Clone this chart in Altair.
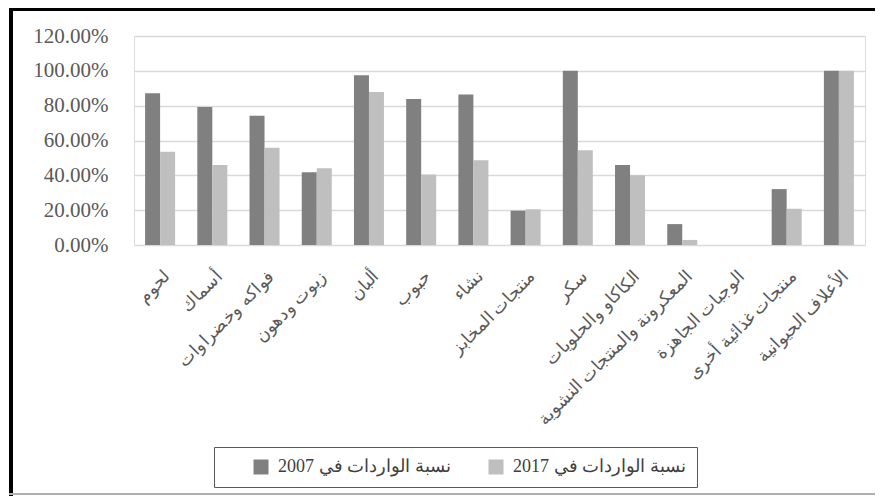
import altair as alt
import pandas as pd

categories = [
    "لحوم", "أسماك", "فواكه وخضراوات", "زيوت ودهون", "ألبان", "حبوب", "نشاء",
    "منتجات المخابز", "سكر", "الكاكاو والحلويات", "المعكرونة والمنتجات النشوية",
    "الوجبات الجاهزة", "منتجات غذائية أخرى", "الأعلاف الحيوانية",
]
series_names = ["نسبة الواردات في 2007", "نسبة الواردات في 2017"]
values_2007 = [0.872, 0.792, 0.742, 0.418, 0.975, 0.838, 0.864, 0.197, 1.0, 0.46, 0.12, 0.0, 0.321, 1.0]
values_2017 = [0.536, 0.46, 0.559, 0.441, 0.878, 0.405, 0.487, 0.205, 0.544, 0.401, 0.029, 0.0, 0.208, 1.0]
y_ticks = [0, 0.2, 0.4, 0.6, 0.8, 1.0, 1.2]
colors = ["#808080", "#bfbfbf"]

rows = []
for c, a, b in zip(categories, values_2007, values_2017):
    rows.append({"cat": c, "series": series_names[0], "v": a})
    rows.append({"cat": c, "series": series_names[1], "v": b})
df = pd.DataFrame(rows)

PLOT_W, PLOT_H = 731, 209

bars = alt.Chart(df).mark_bar(size=15).encode(
    x=alt.X("cat:N", sort=categories, title=None,
            scale=alt.Scale(paddingInner=0.425, paddingOuter=0.2125),
            axis=alt.Axis(labelAngle=-45, labelAlign="right", labelBaseline="top",
                          labelPadding=22, labelOffset=1, ticks=False, tickSize=0,
                          domain=False, labelFont="Liberation Serif", labelFontSize=17.5,
                          labelColor="#595959", labelLimit=400, grid=False)),
    xOffset=alt.XOffset("series:N", sort=series_names,
                        scale=alt.Scale(paddingInner=0, paddingOuter=0)),
    y=alt.Y("v:Q", title=None,
            scale=alt.Scale(domain=[0, 1.2], nice=False),
            axis=alt.Axis(values=y_ticks, format=".2%", labelFont="Liberation Serif",
                          labelFontSize=21, labelColor="#595959", labelPadding=26,
                          ticks=False, domain=False, gridColor="#d9d9d9",
                          gridWidth=1.4)),
    color=alt.Color("series:N", sort=series_names,
                    scale=alt.Scale(domain=series_names, range=colors),
                    legend=alt.Legend(title=None, orient="none", legendX=80, legendY=411,
                                      direction="horizontal", symbolType="square",
                                      symbolSize=225, symbolStrokeWidth=0,
                                      labelFont="Liberation Serif", labelFontSize=18,
                                      labelColor="#404040", labelLimit=400,
                                      columnPadding=9, labelOffset=8,
                                      padding=11, strokeColor="#595959",
                                      symbolOffset=27)),
)

frame_left = alt.Chart(df).mark_rule(color="#000000", strokeWidth=3).encode(
    x=alt.value(-123.2), y=alt.value(-28.3), y2=alt.value(460))
frame_top = alt.Chart(df).mark_rule(color="#000000", strokeWidth=2.5).encode(
    x=alt.value(-124.7), x2=alt.value(760), y=alt.value(-27))
frame_bottom = alt.Chart(df).mark_rule(color="#b0b0b0", strokeWidth=2).encode(
    x=alt.value(-124.7), x2=alt.value(760), y=alt.value(458))

chart = alt.layer(bars, frame_left, frame_top, frame_bottom).properties(
    width=PLOT_W, height=PLOT_H,
    autosize=alt.AutoSizeParams(type="none"),
    padding={"left": 126, "top": 28, "right": 10, "bottom": 251},
).configure_view(stroke=None).configure(background="#ffffff")

chart.save("out.html", embed_options={"renderer": "svg", "actions": False})
